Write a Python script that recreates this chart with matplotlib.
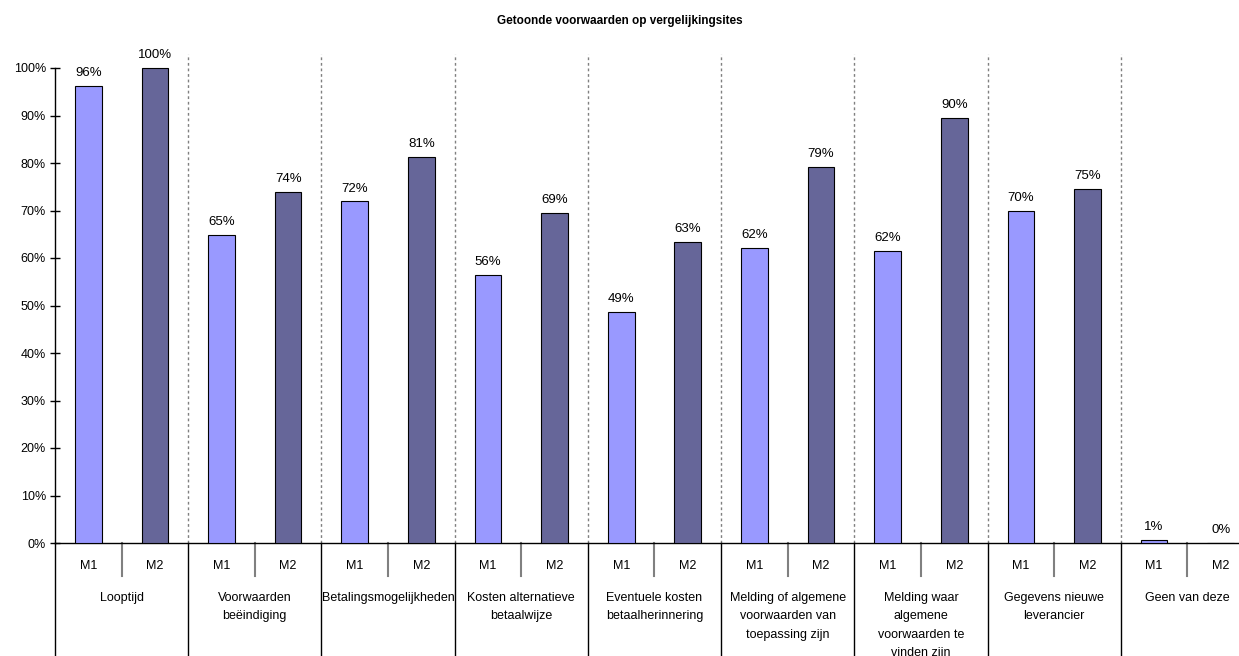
import matplotlib
matplotlib.use("Agg")
import matplotlib.pyplot as plt
from matplotlib.transforms import ScaledTranslation

plt.rcParams['font.family'] = ['Liberation Sans', 'DejaVu Sans']

categories = ["Looptijd", "Voorwaarden\nbeëindiging", "Betalingsmogelijkheden",
              "Kosten alternatieve\nbetaalwijze", "Eventuele kosten\nbetaalherinnering",
              "Melding of algemene\nvoorwaarden van\ntoepassing zijn",
              "Melding waar\nalgemene\nvoorwaarden te\nvinden zijn",
              "Gegevens nieuwe\nleverancier", "Geen van deze"]
series_names = ["M1", "M2"]
m1 = [96.2, 64.8, 71.9, 56.4, 48.7, 62.1, 61.5, 70.0, 0.6]
m2 = [100.0, 73.9, 81.2, 69.4, 63.4, 79.2, 89.5, 74.6, 0.0]
m1_labels = ["96%", "65%", "72%", "56%", "49%", "62%", "62%", "70%", "1%"]
m2_labels = ["100%", "74%", "81%", "69%", "63%", "79%", "90%", "75%", "0%"]
yticks = [0, 10, 20, 30, 40, 50, 60, 70, 80, 90, 100]
title = "Getoonde voorwaarden op vergelijkingsites"

W, H = 1239, 656
fig = plt.figure(figsize=(W / 100, H / 100), dpi=100)
left, right, top, bottom = 55, 1254, 54, 543
ax = fig.add_axes([left / W, (H - bottom) / H, (right - left) / W, (bottom - top) / H])

n = len(categories)
ymax = (bottom - top) / 4.75
ax.set_xlim(0, n)
ax.set_ylim(0, ymax)

c1, c2 = "#9999FF", "#666699"
bw = 0.2
x1 = [i + 0.25 for i in range(n)]
x2 = [i + 0.75 for i in range(n)]
ax.bar(x1, m1, width=bw, color=c1, edgecolor="black", linewidth=0.8, zorder=3)
ax.bar(x2, m2, width=bw, color=c2, edgecolor="black", linewidth=0.8, zorder=3)

for x, v, lab in zip(x1, m1, m1_labels):
    ax.annotate(lab, (x, v), xytext=(0, 5), textcoords="offset points",
                ha="center", va="bottom", fontsize=9.5)
for x, v, lab in zip(x2, m2, m2_labels):
    ax.annotate(lab, (x, v), xytext=(0, 5), textcoords="offset points",
                ha="center", va="bottom", fontsize=9.5)

for s in ["top", "right"]:
    ax.spines[s].set_visible(False)
ax.spines["left"].set_bounds(0, 100)
ax.spines["left"].set_linewidth(1.0)
ax.spines["bottom"].set_linewidth(1.0)

ax.set_yticks(yticks)
ax.set_yticklabels([f"{t}%" for t in yticks])
ax.tick_params(axis="y", direction="inout", length=7, width=1, labelsize=9, pad=3)
ax.set_xticks([])

for i in range(1, n):
    ax.plot([i, i], [0, ymax], linestyle=(0, (2, 2)), color="#808080", linewidth=1.0, zorder=1)

xtr = ax.get_xaxis_transform()
def off(px):
    return xtr + ScaledTranslation(0, -px / 100, fig.dpi_scale_trans)

for i in range(0, n):
    line = plt.Line2D([i, i], [0, -(H - bottom) / (bottom - top) - 0.01], transform=xtr,
                      color="black", linewidth=1.0, clip_on=False)
    ax.add_line(line)
for i in range(n):
    line = plt.Line2D([i + 0.5, i + 0.5], [0, -33 / (bottom - top)], transform=xtr,
                      color="#808080", linewidth=1.5, clip_on=False)
    ax.add_line(line)

for i in range(n):
    ax.text(i + 0.25, 0, series_names[0], transform=off(23), ha="center", va="center", fontsize=9)
    ax.text(i + 0.75, 0, series_names[1], transform=off(23), ha="center", va="center", fontsize=9)
    ax.text(i + 0.5, 0, categories[i], transform=off(49), ha="center", va="top",
            fontsize=9, linespacing=1.72)

fig.text(619.5 / W, 1 - 21 / H, title, ha="center", va="center", fontsize=8.5, fontweight="bold")

fig.savefig("out.png", dpi=100)
